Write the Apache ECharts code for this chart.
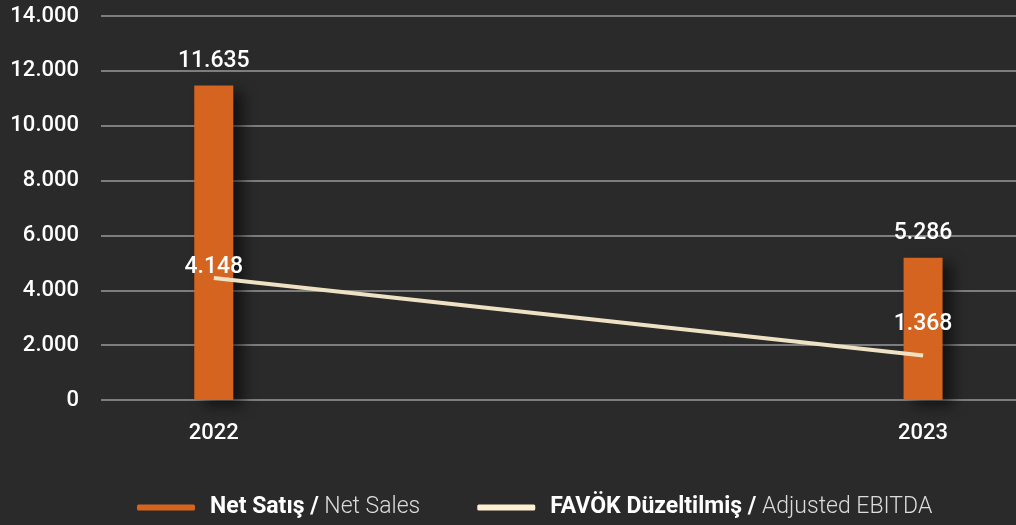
<!DOCTYPE html>
<html lang="tr">
<head>
    <meta charset="UTF-8">
    <title>Net Satış / FAVÖK</title>
    <script src="https://cdn.jsdelivr.net/npm/echarts@6/dist/echarts.min.js"></script>
    <style>
        html, body { margin: 0; padding: 0; background: #2a2a2a; }
        #chart { width: 1016px; height: 525px; }
    </style>
</head>
<body>
    <div id="chart"></div>
    <script>
        // veriler
        const years = [2022, 2023];
        const netSales = [11470, 5190];          // çizilen çubuk yükseklikleri
        const netSalesLabels = ['11.635', '5.286'];
        const ebitda = [4450, 1620];             // çizilen çizgi noktaları
        const ebitdaLabels = ['4.148', '1.368'];
        const yTicks = [0, 2000, 4000, 6000, 8000, 10000, 12000, 14000];

        const FONT = 'Roboto';
        const fmt = v => v === 0 ? '0' : String(v).replace(/\B(?=(\d{3})+(?!\d))/g, '.');

        const legendText = {
            'Net Satış': '{b|Net Satış /}{n| Net Sales}',
            'FAVÖK Düzeltilmiş': '{b|FAVÖK Düzeltilmiş /}{n| Adjusted EBITDA}'
        };

        const chart = echarts.init(document.getElementById('chart'));
        chart.setOption({
            backgroundColor: '#2a2a2a',
            animation: false,
            grid: { left: 101, right: 0, top: 16, bottom: 125 },
            xAxis: {
                type: 'value',
                min: 2021.841,
                max: 2023.131,
                splitLine: { show: false },
                axisLine: { show: false },
                axisTick: { show: false },
                axisLabel: {
                    customValues: years,
                    formatter: v => String(v),
                    color: '#ffffff',
                    fontFamily: FONT,
                    fontWeight: 500,
                    fontSize: 22,
                    margin: 22
                }
            },
            yAxis: {
                type: 'value',
                min: yTicks[0],
                max: yTicks[yTicks.length - 1],
                interval: 2000,
                axisLine: { show: false },
                axisTick: { show: false },
                splitLine: { lineStyle: { color: '#7d7d7d', width: 2 } },
                axisLabel: {
                    formatter: fmt,
                    color: '#ffffff',
                    fontFamily: FONT,
                    fontWeight: 500,
                    fontSize: 22,
                    margin: 22
                }
            },
            legend: {
                bottom: 1,
                left: 132,
                itemWidth: 58,
                itemHeight: 6,
                itemGap: 57,
                icon: 'roundRect',
                data: [
                    { name: 'Net Satış', itemStyle: { color: '#d4641f' } },
                    { name: 'FAVÖK Düzeltilmiş', itemStyle: { color: '#fdf0d2' } }
                ],
                formatter: name => legendText[name],
                textStyle: {
                    rich: {
                        b: { color: '#ffffff', fontFamily: FONT, fontSize: 23, fontWeight: 'bold', padding: [0, 0, 0, 10] },
                        n: { color: '#dcdcdc', fontFamily: FONT, fontSize: 23, fontWeight: 300 }
                    }
                }
            },
            series: [
                {
                    name: 'Net Satış',
                    type: 'bar',
                    barWidth: 39,
                    data: years.map((y, i) => [y, netSales[i]]),
                    itemStyle: {
                        color: '#d4641f',
                        shadowColor: 'rgba(0,0,0,0.55)',
                        shadowBlur: 14,
                        shadowOffsetX: 10,
                        shadowOffsetY: 6
                    },
                    label: {
                        show: true,
                        position: 'top',
                        distance: 13,
                        color: '#ffffff',
                        fontFamily: FONT,
                        fontWeight: 500,
                        fontSize: 23,
                        formatter: p => netSalesLabels[p.dataIndex]
                    }
                },
                {
                    name: 'FAVÖK Düzeltilmiş',
                    type: 'line',
                    symbol: 'circle',
                    symbolSize: 2,
                    showSymbol: true,
                    z: 3,
                    data: years.map((y, i) => ({
                        value: [y, ebitda[i]],
                        label: { distance: i === 0 ? -2 : 19 }
                    })),
                    lineStyle: { color: '#efe2c4', width: 4 },
                    itemStyle: { color: 'rgba(0,0,0,0)' },
                    label: {
                        show: true,
                        position: 'top',
                        color: '#ffffff',
                        fontFamily: FONT,
                        fontWeight: 500,
                        fontSize: 23,
                        formatter: p => ebitdaLabels[p.dataIndex]
                    }
                }
            ]
        });
    </script>
</body>
</html>
